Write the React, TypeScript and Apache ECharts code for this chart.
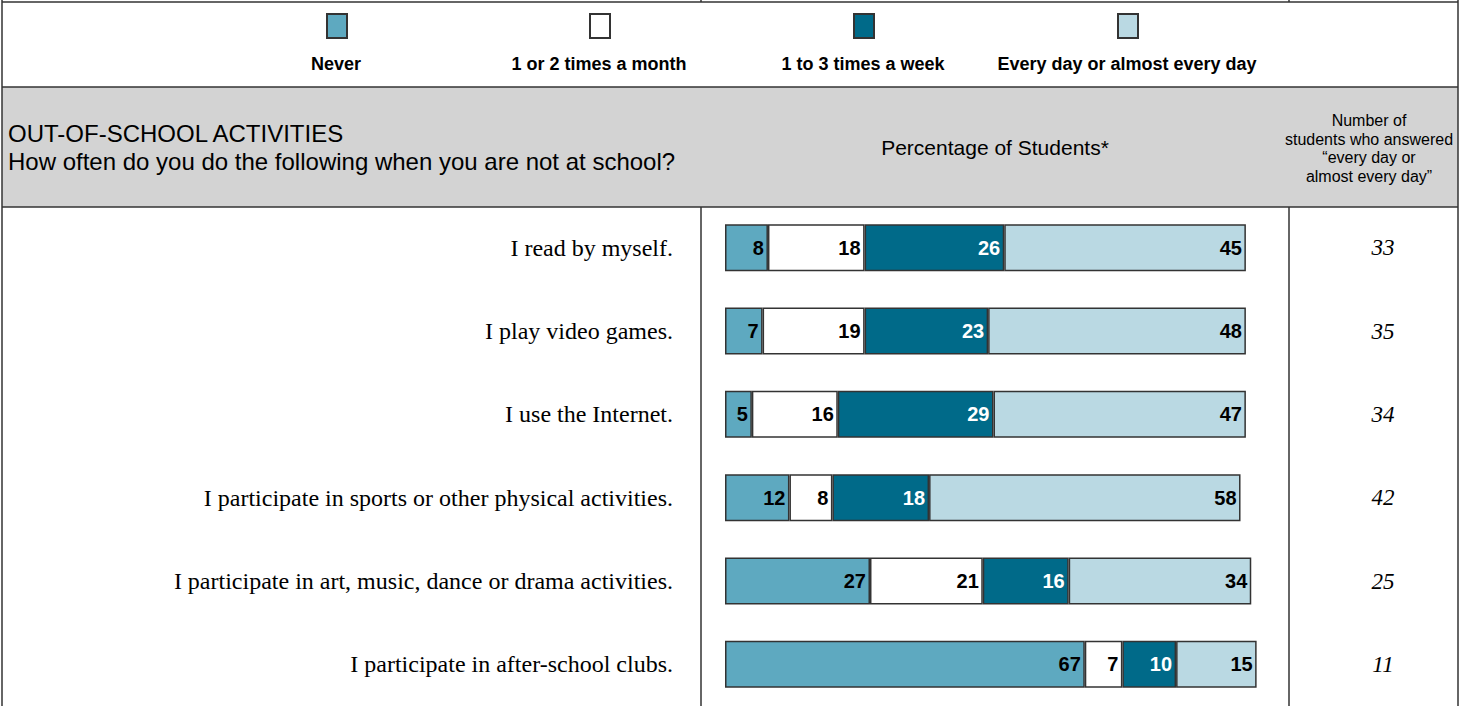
import React, { useEffect, useRef } from "react";
import * as echarts from "echarts";

const categories = [
  "I read by myself.",
  "I play video games.",
  "I use the Internet.",
  "I participate in sports or other physical activities.",
  "I participate in art, music, dance or drama activities.",
  "I participate in after-school clubs.",
];
const seriesNames = [
  "Never",
  "1 or 2 times a month",
  "1 to 3 times a week",
  "Every day or almost every day",
];
const neverValues = [8, 7, 5, 12, 27, 67];
const monthValues = [18, 19, 16, 8, 21, 7];
const weekValues = [26, 23, 29, 18, 16, 10];
const everydayValues = [45, 48, 47, 58, 34, 15];
const answeredCounts = [33, 35, 34, 42, 25, 11];
const headerTitle = "OUT-OF-SCHOOL ACTIVITIES";
const headerQuestion = "How often do you do the following when you are not at school?";
const axisTitle = "Percentage of Students*";
const countTitle = "Number of\nstudents who answered\n\u201cevery day or\nalmost every day\u201d";

const W = 1461;
const H = 706;
const SANS = '"Liberation Sans", Arial, sans-serif';
const SERIF = '"Liberation Serif", "Times New Roman", serif';
const colors = ["#5ea9c0", "#ffffff", "#006a89", "#bad9e3"];
const labelColors = ["#000", "#000", "#fff", "#000"];
const legendCenters = [336, 599, 863, 1127];
const lineColor = "#333";

export default function App() {
  const ref = useRef<HTMLDivElement>(null);
  useEffect(() => {
    if (!ref.current) return;
    const chart = echarts.init(ref.current, null, { renderer: "svg" });
    const dataSets = [neverValues, monthValues, weekValues, everydayValues];

    const series = seriesNames.map((name, i) => ({
      name,
      type: "bar",
      stack: "total",
      yAxisIndex: 0,
      barWidth: 47,
      data: dataSets[i],
      itemStyle: { color: colors[i], borderColor: lineColor, borderWidth: 1.5 },
      label: {
        show: true,
        position: "insideRight",
        distance: 4,
        color: labelColors[i],
        fontFamily: SANS,
        fontWeight: "bold",
        fontSize: 20,
      },
    }));

    const legends = seriesNames.map((name, i) => ({
      data: [name],
      left: legendCenters[i] - 10,
      top: 13,
      itemWidth: 20,
      itemHeight: 24,
      itemGap: 0,
      padding: 0,
      icon: "rect",
      selectedMode: false,
      formatter: () => "",
      textStyle: { fontSize: 1 },
    }));

    const hLine = (x1: number, x2: number, y: number) => ({
      type: "line",
      shape: { x1, y1: y, x2, y2: y },
      style: { stroke: lineColor, lineWidth: 1.5 },
      z: 10,
    });
    const vLine = (x: number, y1: number, y2: number) => ({
      type: "line",
      shape: { x1: x, y1, x2: x, y2 },
      style: { stroke: lineColor, lineWidth: 1.5 },
      z: 10,
    });

    const graphic: any[] = [
      {
        type: "rect",
        shape: { x: 2, y: 87, width: 1456, height: 120 },
        style: { fill: "#d3d3d3" },
        z: 0,
      },
      hLine(2, 1458, 2),
      hLine(2, 1458, 87),
      hLine(2, 1458, 207),
      vLine(2, 0, H),
      vLine(1458, 0, H),
      vLine(701, 0, 2),
      vLine(1289, 0, 2),
      vLine(701, 207, H),
      vLine(1289, 207, H),
      ...seriesNames.map((name, i) => ({
        type: "text",
        x: legendCenters[i],
        y: 64,
        style: {
          text: name,
          fill: "#000",
          font: `bold 18px ${SANS}`,
          align: "center",
          verticalAlign: "middle",
        },
        z: 10,
      })),
      {
        type: "text",
        x: 8,
        y: 133,
        style: { text: headerTitle, fill: "#000", font: `24px ${SANS}`, align: "left", verticalAlign: "middle" },
        z: 10,
      },
      {
        type: "text",
        x: 8,
        y: 161,
        style: { text: headerQuestion, fill: "#000", font: `24px ${SANS}`, align: "left", verticalAlign: "middle" },
        z: 10,
      },
      {
        type: "text",
        x: 995,
        y: 147,
        style: { text: axisTitle, fill: "#000", font: `21px ${SANS}`, align: "center", verticalAlign: "middle" },
        z: 10,
      },
      {
        type: "text",
        x: 1369,
        y: 148.5,
        style: {
          text: countTitle,
          fill: "#000",
          font: `16px ${SANS}`,
          lineHeight: 18.5,
          align: "center",
          verticalAlign: "middle",
        },
        z: 10,
      },
    ];

    chart.setOption({
      animation: false,
      backgroundColor: "#ffffff",
      legend: legends,
      grid: { left: 725, top: 206, width: 537, height: 504, containLabel: false },
      xAxis: { type: "value", min: 0, max: 100, show: false },
      yAxis: [
        {
          type: "category",
          data: categories,
          inverse: true,
          axisLine: { show: false },
          axisTick: { show: false },
          splitLine: { show: false },
          axisLabel: {
            margin: 52,
            color: "#000",
            fontFamily: SERIF,
            fontSize: 24,
            align: "right",
          },
        },
        {
          type: "category",
          data: answeredCounts.map(String),
          inverse: true,
          position: "right",
          axisLine: { show: false },
          axisTick: { show: false },
          splitLine: { show: false },
          axisLabel: {
            margin: 121,
            color: "#000",
            fontFamily: SERIF,
            fontStyle: "italic",
            fontSize: 23,
            align: "center",
          },
        },
      ],
      series,
      graphic,
    });
    return () => chart.dispose();
  }, []);
  return (
    <div
      ref={ref}
      style={{ position: "absolute", left: 0, top: 0, width: W, height: H, background: "#fff" }}
    />
  );
}
